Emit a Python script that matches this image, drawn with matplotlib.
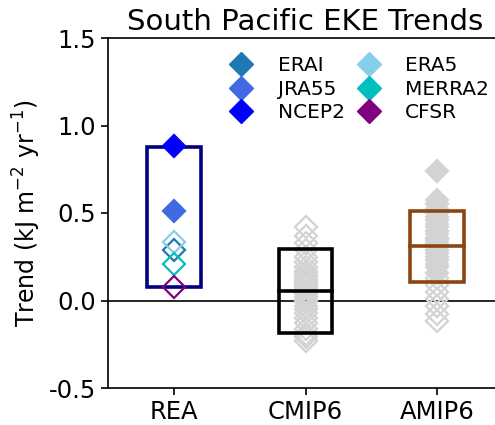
import matplotlib
matplotlib.use("Agg")
import matplotlib.pyplot as plt
from matplotlib.lines import Line2D
from matplotlib.patches import Rectangle

# ---- data ----
categories = ["REA", "CMIP6", "AMIP6"]

rea_names = ["ERAI", "JRA55", "NCEP2", "ERA5", "MERRA2", "CFSR"]
rea_colors = ["#1f77b4", "royalblue", "blue", "skyblue", "c", "purple"]
rea_values = [0.29, 0.51, 0.885, 0.335, 0.21, 0.08]
rea_filled = [False, True, True, False, False, False]

cmip6_values = [0.42, 0.37, 0.33, 0.29, 0.25, 0.22, 0.19, 0.17, 0.155, 0.14,
                0.125, 0.11, 0.10, 0.09, 0.08, 0.07, 0.05, 0.035, 0.02, 0.005,
                -0.01, -0.03, -0.05, -0.07, -0.10, -0.13, -0.16, -0.19, -0.21, -0.23]
cmip6_filled = [False] * len(cmip6_values)

amip6_values = [0.74, 0.575, 0.55, 0.525, 0.50, 0.48, 0.46, 0.44, 0.42, 0.40,
                0.38, 0.36, 0.345, 0.33, 0.31, 0.29, 0.27, 0.25, 0.23, 0.21,
                0.19, 0.16, 0.13, 0.09, 0.05, 0.01, -0.03, -0.075, -0.115]
amip6_filled = [True] * 22 + [False] * 7

# boxes: (low, high, centre line or None)
box_low = [0.08, -0.185, 0.105]
box_high = [0.88, 0.295, 0.51]
box_mid = [None, 0.057, 0.31]
box_colors = ["navy", "black", "saddlebrown"]

yticks = [-0.5, 0.0, 0.5, 1.0, 1.5]
ytick_labels = ["-0.5", "0.0", "0.5", "1.0", "1.5"]

# ---- figure ----
fig = plt.figure(figsize=(4.95, 4.25), dpi=100)
ax = fig.add_axes([108 / 495, 1 - 388 / 425, (503 - 108) / 495, (388 - 38) / 425])

xpos = [1, 2, 3]
gray = "#d3d3d3"
ms = 11
mew = 1.6

# model points
for x, vals, fills in [(xpos[1], cmip6_values, cmip6_filled),
                       (xpos[2], amip6_values, amip6_filled)]:
    for v, f in zip(vals, fills):
        ax.plot([x], [v], marker="D", ms=ms, mew=mew, linestyle="none",
                mec=gray, mfc=gray if f else "none", zorder=2)

# reanalysis points
for v, c, f in zip(rea_values, rea_colors, rea_filled):
    ax.plot([xpos[0]], [v], marker="D", ms=ms, mew=mew, linestyle="none",
            mec=c, mfc=c if f else "none", zorder=4)

# boxes
bw = 0.41
for x, lo, hi, mid, c in zip(xpos, box_low, box_high, box_mid, box_colors):
    ax.add_patch(Rectangle((x - bw / 2, lo), bw, hi - lo, fill=False,
                           edgecolor=c, lw=2.6, zorder=3))
    if mid is not None:
        ax.plot([x - bw / 2, x + bw / 2], [mid, mid], color=c, lw=2.6, zorder=3)

ax.axhline(0, color="black", lw=1.2, zorder=1)

ax.set_xlim(0.5, 3.5)
ax.set_ylim(-0.5, 1.5)
ax.set_xticks(xpos)
ax.set_xticklabels(categories, fontsize=17.5)
ax.set_yticks(yticks)
ax.set_yticklabels(ytick_labels, fontsize=17.5)
ax.tick_params(length=5, width=1.2)
for s in ax.spines.values():
    s.set_linewidth(1.2)
ax.spines["right"].set_visible(False)
ax.set_ylabel("Trend (kJ m$^{-2}$ yr$^{-1}$)", fontsize=17)
ax.set_title("South Pacific EKE Trends", fontsize=21, pad=6)

handles = [Line2D([], [], marker="D", linestyle="none", ms=12.5, mfc=c, mec=c)
           for c in rea_colors]
# order: column 1 ERAI, JRA55, NCEP2; column 2 ERA5, MERRA2, CFSR
ax.legend(handles, rea_names, ncol=2, frameon=False, fontsize=14.5,
          loc="upper left", bbox_to_anchor=(0.251, 1.0),
          handletextpad=1.0, columnspacing=0.4, labelspacing=0.22,
          handlelength=1.6, borderaxespad=0.5)

fig.savefig("out.png", dpi=100)
